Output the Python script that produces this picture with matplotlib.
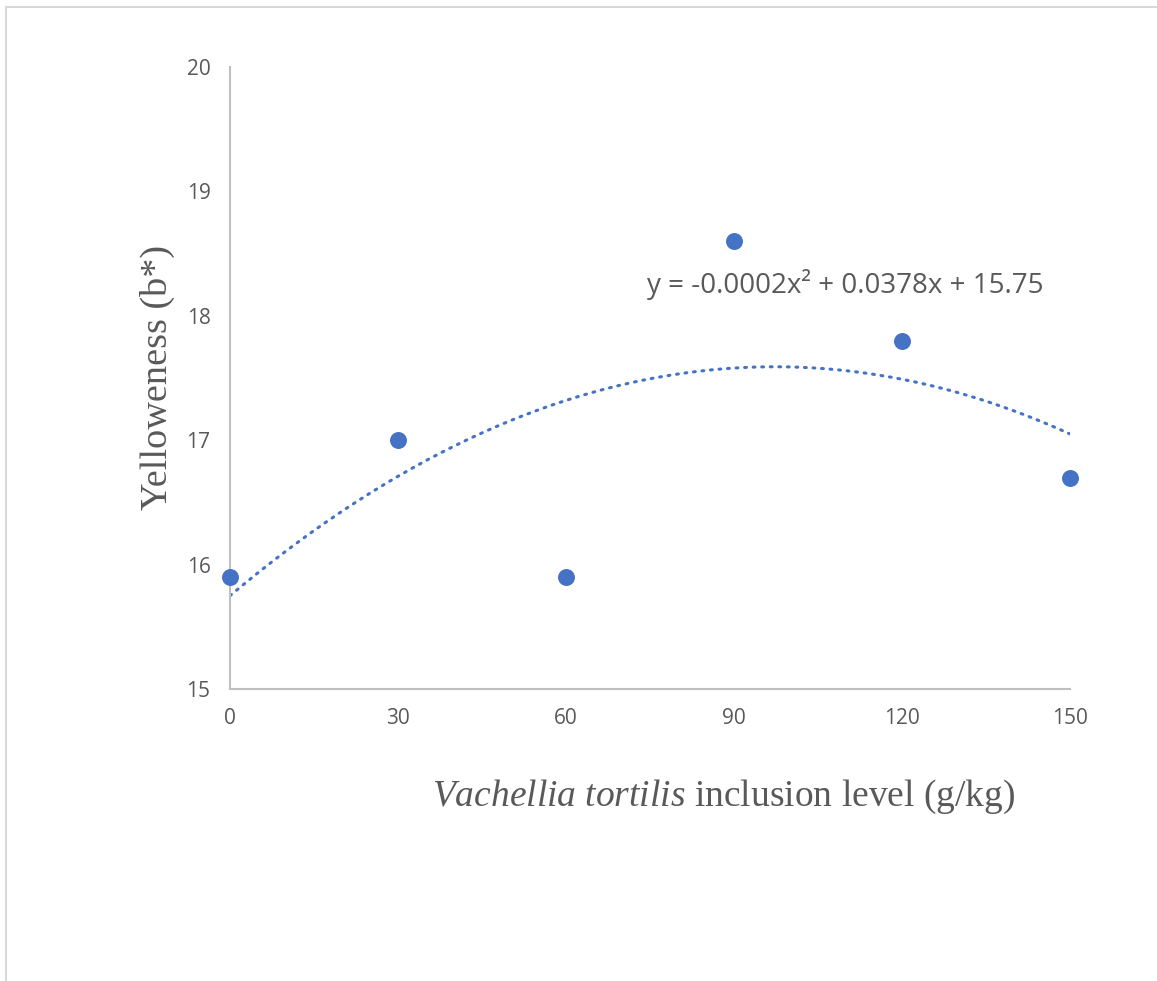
import numpy as np
import matplotlib
matplotlib.use('Agg')

import matplotlib.pyplot as plt
from matplotlib.patches import Rectangle


# inclusion level (g/kg) and yelloweness b*
levels = [0, 30, 60, 90, 120, 150]
yelloweness = [15.9, 17.0, 15.9, 18.6, 17.8, 16.7]

x_ticks = [0, 30, 60, 90, 120, 150]
y_ticks = [15, 16, 17, 18, 19, 20]

point_color = '#4472C4'
text_grey = '#595959'

plt.rcParams['mathtext.fontset'] = 'custom'
plt.rcParams['mathtext.rm'] = 'Liberation Serif'
plt.rcParams['mathtext.it'] = 'Liberation Serif:italic'

fig = plt.figure(figsize=(11.57, 9.81), dpi=100)

# chart-area border (excel style), runs off the right and bottom edge
fig.patches.append(Rectangle((6 / 1157, -0.1), 1.2, (981 - 7) / 981 + 0.1,
                             transform=fig.transFigure, fill=False,
                             edgecolor='#D9D9D9', linewidth=1.5))

ax = fig.add_axes([230 / 1157, (981 - 689) / 981, 840 / 1157, 622 / 981])

# quadratic trendline from the data
coef = np.polyfit(levels, yelloweness, 2)
xs = np.linspace(0, 150, 300)
ax.plot(xs, np.polyval(coef, xs), color=point_color, linewidth=2.2,
        linestyle=(0, (0.6, 2.2)), dash_capstyle='round', zorder=2)

ax.scatter(levels, yelloweness, s=125, color=point_color, zorder=3,
           clip_on=False)

ax.set_xlim(0, 150)
ax.set_ylim(15, 20)
ax.set_xticks(x_ticks)
ax.set_yticks(y_ticks)

for side in ['top', 'right']:
    ax.spines[side].set_visible(False)
for side in ['left', 'bottom']:
    ax.spines[side].set_color('#BFBFBF')
    ax.spines[side].set_linewidth(1.5)

ax.tick_params(length=0, pad=14, labelsize=15, labelcolor=text_grey)
for lab in ax.get_xticklabels() + ax.get_yticklabels():
    lab.set_fontfamily('Open Sans')

ax.text(845 / 1157, 1 - 284 / 981, 'y = -0.0002x\u00b2 + 0.0378x + 15.75',
        transform=fig.transFigure, ha='center', va='center', fontsize=20,
        color=text_grey, family='Open Sans')

fig.text(157 / 1157, 1 - 378 / 981, 'Yelloweness (b*)', rotation=90,
         ha='center', va='center', fontsize=27.5, color=text_grey,
         family='Liberation Serif')
fig.text(724 / 1157, 1 - 797 / 981,
         r'$\mathit{Vachellia\ tortilis}$ inclusion level (g/kg)',
         ha='center', va='center', fontsize=27, color=text_grey,
         family='Liberation Serif')

fig.savefig('out.png', dpi=100, facecolor='white')
plt.close()
